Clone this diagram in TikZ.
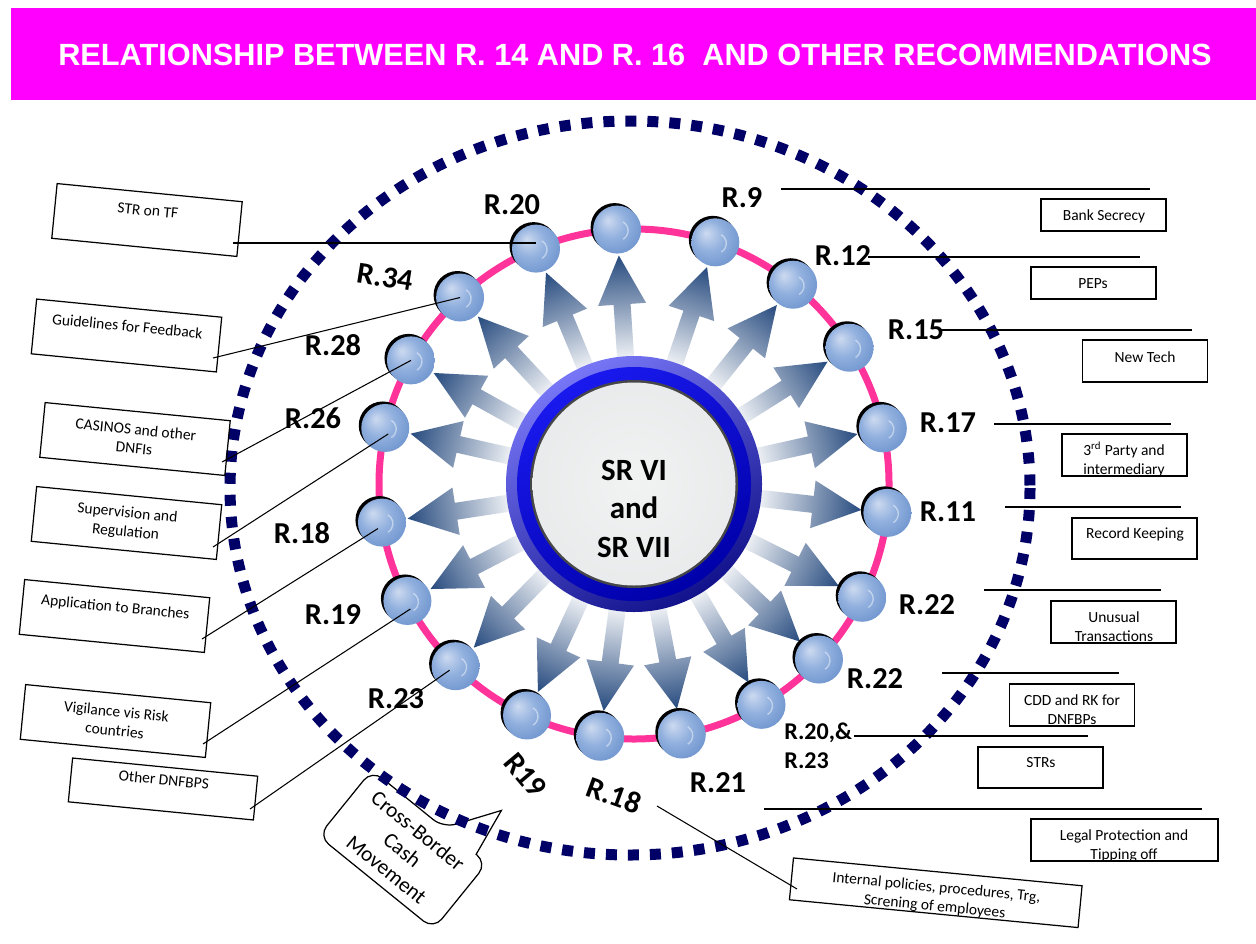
\documentclass[tikz,border=0pt]{standalone}
\usepackage{fontspec}
\setmainfont{Carlito}
\newfontfamily\headfont{Liberation Sans}
\usetikzlibrary{calc}

\definecolor{titlebg}{RGB}{255,0,255}
\definecolor{navydash}{RGB}{0,0,102}
\definecolor{ringpink}{RGB}{255,51,153}
\definecolor{arrowdark}{RGB}{38,74,126}
\definecolor{ballhi}{RGB}{205,218,240}
\definecolor{ballmid}{RGB}{145,176,222}
\definecolor{ballout}{RGB}{90,132,196}
\definecolor{discc}{RGB}{241,243,243}
\definecolor{discm}{RGB}{228,230,231}
\definecolor{disce}{RGB}{192,196,199}
\definecolor{discrim}{RGB}{150,154,158}
\definecolor{bluelight}{RGB}{118,118,246}
\definecolor{bluedark}{RGB}{18,18,140}
\definecolor{bluebright}{RGB}{25,25,238}
\definecolor{bluedeep}{RGB}{0,0,170}
\definecolor{rimgrey}{RGB}{70,70,72}

\pgfdeclareradialshading{ballsh}{\pgfpoint{-10bp}{10bp}}{%
  color(0bp)=(ballhi); color(16bp)=(ballmid); color(42bp)=(ballout); color(50bp)=(ballout)}
\pgfdeclareradialshading{discsh}{\pgfpoint{0bp}{0bp}}{%
  color(0bp)=(discc); color(40bp)=(discm); color(47bp)=(disce); color(50bp)=(discrim)}

\tikzset{
  ball/.style={circle, inner sep=0pt, minimum size=0.96cm, shade, shading=ballsh},
  rlab/.style={font=\fontsize{17.3}{20}\selectfont\bfseries, inner sep=0pt},
  smlab/.style={font=\fontsize{13.7}{16.5}\selectfont\bfseries, inner sep=0pt, align=left},
  boxtxt/.style={font=\fontsize{8.82}{10.8}\selectfont, inner sep=0pt, align=center},
  lbox/.style={draw, line width=0.7pt, rotate=-5.6, minimum width=3.72cm, minimum height=1.1cm,
    inner sep=0pt, font=\fontsize{8.82}{10.8}\selectfont, align=center},
  rbox/.style={draw, line width=0.7pt, minimum width=2.5cm, inner sep=0pt},
  conn/.style={line width=0.6pt, black},
  arrowbody/.style={left color=white, right color=arrowdark},
}

\begin{document}
\begin{tikzpicture}[x=0.02cm, y=-0.02cm]
\useasboundingbox (0,0) rectangle (1256,943);
\fill[white] (0,0) rectangle (1256,943);

% title bar
\fill[titlebg] (11,8) rectangle (1256,100);
\node[anchor=base, font=\headfont\fontsize{17.47}{20}\selectfont\bfseries, text=white, inner sep=0pt]
  (title) at (635,65) {RELATIONSHIP BETWEEN R. 14 AND R. 16\ \ AND OTHER RECOMMENDATIONS};

\coordinate (C) at (634,484);

% speech bubble
\begin{scope}[shift={(372,770)}, rotate=-39]
  \draw[line width=0.7pt, rounded corners=0.26cm] (0,0) -- (92,0) [sharp corners] -- (126,-50) -- (134,0)
    [rounded corners=0.26cm] -- (148,0) -- (148,85) -- (0,85) -- cycle;
  \node[font=\fontsize{12.2}{14.2}\selectfont, align=center, inner sep=0pt, rotate=-39]
    (cbtext) at (74,43) {Cross-Border\\Cash\\Movement};
\end{scope}

% outer dotted ring
\draw[navydash, line width=0.22cm, dash pattern=on 0.22cm off 0.22cm] (630,488) ellipse [x radius=400, y radius=367];

% pink ring
\draw[ringpink, line width=0.14cm] (C) circle (255);

% radiating arrows
\foreach \a in {112.6,93.8,71.4,51.4,32.3,12.6,-6.5,-26.5,-43.5,-60,-79.2,-97.6,-114.8,-134.4,-152.7,-171.3,167.3,151,133}{
  \begin{scope}[transform canvas={shift={(634,484)}, rotate=\a}]
    \shade[arrowbody] (118,-8.5) -- (180,-8.5) -- (180,-24) -- (229,0) -- (180,24) -- (180,8.5) -- (118,8.5) -- cycle;
  \end{scope}
}

% central disc
\shade[top color=bluelight, bottom color=bluedark, shading angle=30] (C) circle (128);
\shade[top color=bluebright, bottom color=bluedeep, shading angle=30] (C) circle (117);
\fill[rimgrey] (C) circle (104);
\shade[shading=discsh] (C) circle (101.5);
\node[font=\fontsize{17.6}{21.9}\selectfont\bfseries, align=center, inner sep=0pt]
  (core) at (634,508.5) {SR VI\\and\\SR VII};

% balls on the ring
\foreach \a/\n in {112.6/bR20, 93.8/bTop, 71.4/bR9, 51.4/bR12, 32.3/bR15, 12.6/bR17, -6.5/bR11,
  -26.5/bR22a, -43.5/bR22b, -60/bR20b, -79.2/bR21, -97.6/bR18b, -114.8/bR19b, -134.4/bR23,
  -152.7/bR19, -171.3/bR18, 167.3/bR26, 151/bR28, 133/bR34}{
  \coordinate (p) at ($(C)+(-\a:255)$);
  \fill[black] ($(p)+(-2.5,-2.5)$) circle (24);
  \node[ball] (\n) at (p) {};
  \draw[white, opacity=.45, line width=0.8pt] ($(p)+(1,1)+(-60:10)$) arc[start angle=-60, end angle=60, radius=10];
}

% ring labels
\node[rlab] (tR20) at (512,205) {R.20};
\node[rlab] (tR9) at (742,198) {R.9};
\node[rlab] (tR12) at (843,256) {R.12};
\node[rlab] (tR15) at (916,330) {R.15};
\node[rlab] (tR17) at (948,423) {R.17};
\node[rlab] (tR11) at (948,512) {R.11};
\node[rlab] (tR22a) at (927,605) {R.22};
\node[rlab] (tR22b) at (875,679) {R.22};
\node[smlab, anchor=west] (tR20b) at (784,745.5) {R.20,\&\\R.23};
\node[rlab] (tR21) at (718,783) {R.21};
\node[rlab, rotate=-20] (tR18b) at (614,795) {R.18};
\node[rlab, rotate=-50] (tR19b) at (526,775) {R19};
\node[rlab] (tR23) at (396,699) {R.23};
\node[rlab] (tR19) at (333,615) {R.19};
\node[rlab] (tR18) at (302,533) {R.18};
\node[rlab] (tR26) at (313,418) {R.26};
\node[rlab] (tR28) at (333,345) {R.28};
\node[rlab, rotate=-9] (tR34) at (385,277) {R.34};

% left boxes
\node[lbox] (kSTR) at (147,220) {STR on TF\\\mbox{}};
\node[lbox] (kGuide) at (126.5,335.5) {Guidelines for Feedback\\\mbox{}};
\node[lbox] (kCas) at (135,439) {CASINOS and other\\DNFIs};
\node[lbox] (kSup) at (126.5,523) {Supervision and\\Regulation};
\node[lbox] (kApp) at (114.5,616) {Application to Branches\\\mbox{}};
\node[lbox] (kVig) at (115.5,721) {Vigilance vis Risk\\countries};
\node[lbox, minimum height=0.88cm] (kOth) at (163,789) {Other DNFBPS\\\mbox{}};

% left connectors
\coordinate (cSTR) at (233,243);
\coordinate (cGuide) at (213,358);
\coordinate (cCas) at (222,462);
\coordinate (cSup) at (213,547);
\coordinate (cApp) at (202,639);
\coordinate (cVig) at (203,744);
\coordinate (cOth) at (250,809);
\draw[conn] (cSTR) -- (cSTR -| bR20);
\draw[conn] (cGuide) -- (bR34.center);
\draw[conn] (cCas) -- (bR28.center);
\draw[conn] (cSup) -- ($(bR26.center)+(3,6)$);
\draw[conn] (cApp) -- ($(bR18.center)+(-4,6)$);
\draw[conn] (cVig) -- ($(bR19.center)+(3,8)$);
\draw[conn] (cOth) -- ($(bR23.center)+(-6,4)$);

% right boxes
\node[rbox, minimum height=0.64cm] (kBank) at (1103.5,215) {};
\node[boxtxt] (xBank) at (1104,216) {Bank Secrecy};
\node[rbox, minimum height=0.64cm] (kPEP) at (1093.5,283) {};
\node[boxtxt] (xPEP) at (1093,284) {PEPs};
\node[rbox, minimum height=0.84cm] (kNew) at (1145,361) {};
\node[boxtxt] (xNew) at (1145,357) {New Tech};
\node[rbox, minimum height=0.84cm] (kThird) at (1124.5,455) {};
\node[boxtxt] (xThird) at (1124,459.5) {3\textsuperscript{rd} Party and\\intermediary};
\node[rbox, minimum height=0.82cm] (kRec) at (1134.5,538.5) {};
\node[boxtxt] (xRec) at (1135,534) {Record Keeping};
\node[rbox, minimum height=0.84cm] (kUnu) at (1113.5,622) {};
\node[boxtxt] (xUnu) at (1114,626.5) {Unusual\\Transactions};
\node[rbox, minimum height=0.84cm] (kCDD) at (1072,705) {};
\node[boxtxt] (xCDD) at (1072,710) {CDD and RK for\\DNFBPs};
\node[rbox, minimum height=0.82cm] (kSTRs) at (1040.5,767.5) {};
\node[boxtxt] (xSTRs) at (1041,763) {STRs};
\node[rbox, minimum width=3.74cm, minimum height=0.84cm] (kLegal) at (1124.5,840) {};
\node[boxtxt] (xLegal) at (1124,845.5) {Legal Protection and\\Tipping off};
\node[draw, line width=0.7pt, rotate=-5.5, minimum width=5.8cm, minimum height=0.84cm, inner sep=0pt]
  (kInt) at (935.75,892.75) {};
\node[boxtxt, rotate=-5.5] (xInt) at (935.5,897.5) {Internal policies, procedures, Trg,\\Screning of employees};

% right leader lines
\coordinate (r9a) at (781,189);  \coordinate (r9b) at (1150,189);
\coordinate (r12a) at (868,257); \coordinate (r12b) at (1140,257);
\coordinate (r15a) at (940,330); \coordinate (r15b) at (1192,330);
\coordinate (r17a) at (994,424); \coordinate (r17b) at (1171,424);
\coordinate (r11a) at (1005,507); \coordinate (r11b) at (1181,507);
\coordinate (r22a) at (984,590); \coordinate (r22b) at (1161,590);
\coordinate (r22c) at (942,673); \coordinate (r22d) at (1119,673);
\coordinate (r20a) at (854,736); \coordinate (r20b) at (1088,736);
\coordinate (r21a) at (764,809); \coordinate (r21b) at (1202,809);
\draw[conn] (r9a) -- (r9b);
\draw[conn] (r12a) -- (r12b);
\draw[conn] (r15a) -- (r15b);
\draw[conn] (r17a) -- (r17b);
\draw[conn] (r11a) -- (r11b);
\draw[conn] (r22a) -- (r22b);
\draw[conn] (r22c) -- (r22d);
\draw[conn] (r20a) -- (r20b);
\draw[conn] (r21a) -- (r21b);

% internal policies leader
\coordinate (ip1) at (657,806);
\coordinate (ip2) at (797,889);
\draw[conn] (ip1) -- (ip2);
\end{tikzpicture}
\end{document}
